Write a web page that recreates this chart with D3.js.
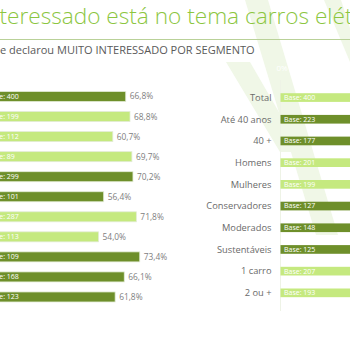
<!DOCTYPE html>
<html>
<head>
<meta charset="utf-8">
<script src="https://cdn.jsdelivr.net/npm/d3@7"></script>
<style>
  body { margin: 0; background: #fff; }
  svg { display: block; font-family: "Open Sans", sans-serif; }
</style>
</head>
<body>
<svg width="350" height="350"></svg>
<script>
// left panel (labels are off the left edge of the slide)
var leftBase = [400, 199, 112, 89, 299, 101, 287, 113, 109, 168, 123];
var leftValues = [66.8, 68.8, 60.7, 69.7, 70.2, 56.4, 71.8, 54.0, 73.4, 66.1, 61.8];
var leftShade = ["dark", "light", "light", "light", "dark", "dark", "light", "light", "dark", "dark", "dark"];

// right panel (bars run off the right edge, values are estimates)
var rightCategories = ["Total", "Até 40 anos", "40 +", "Homens", "Mulheres", "Conservadores", "Moderados", "Sustentáveis", "1 carro", "2 ou +"];
var rightBase = [400, 223, 177, 201, 199, 127, 148, 125, 207, 193];
var rightValues = [45.0, 47.5, 41.8, 46.3, 43.7, 38.6, 44.6, 52.0, 46.9, 43.0];
var rightShade = ["light", "dark", "dark", "light", "light", "dark", "dark", "dark", "light", "light"];

var title = "O quão interessado está no tema carros elétricos";
var subtitle = "Percentual que declarou MUITO INTERESSADO POR SEGMENTO";

var svg = d3.select("svg");
var color = d3.scaleOrdinal().domain(["dark", "light"]).range(["#6e8f2a", "#c5e97f"]);

// faint decoration in the background
var deco = [
  [[245, 0], [268, 0], [338, 235], [316, 235]],
  [[324, 0], [341, 0], [350, 28], [350, 62]],
  [[226, 62], [250, 62], [302, 152], [280, 152]]
];
svg.selectAll(".deco").data(deco).enter().append("path")
  .attr("class", "deco")
  .attr("d", function(d) { return "M" + d.join("L") + "Z"; })
  .attr("fill", "#f0f7e7");

// fit a text so that a visible part spans a given width
function fitText(sel, full, from, to, x0, width, size0) {
  sel.text(full).attr("font-size", size0);
  var node = sel.node();
  var w = node.getSubStringLength(from, to - from);
  var size = size0 * width / w;
  sel.attr("font-size", size);
  var pre = from > 0 ? node.getSubStringLength(0, from) : 0;
  sel.attr("x", x0 - pre);
}

var t = svg.append("text").attr("y", 23.5).attr("fill", "#8cc63f").attr("font-weight", 300);
var tStart = title.indexOf("teressado");
fitText(t, title, tStart, title.indexOf("elét") + 3, -0.5, 345.5, 17);

svg.append("line")
  .attr("x1", 0).attr("x2", 350)
  .attr("y1", 39.5).attr("y2", 39.5)
  .attr("stroke", "#b9d198").attr("stroke-width", 1);

var st = svg.append("text").attr("y", 54).attr("fill", "#5a5a5a");
var sStart = subtitle.indexOf("e declarou");
fitText(st, subtitle, sStart, subtitle.length, 0, 255, 8.5);

// ---- left chart
var xL = d3.scaleLinear().domain([0, 100]).range([-16, -16 + 212.2]);
var yL = d3.scaleBand().domain(d3.range(leftValues.length)).range([81.5, 312]).padding(0.5);

var left = svg.selectAll(".lrow").data(leftValues).enter().append("g").attr("class", "lrow");
left.append("rect")
  .attr("x", xL(0))
  .attr("y", function(d, i) { return yL(i); })
  .attr("width", function(d) { return xL(d) - xL(0); })
  .attr("height", yL.bandwidth())
  .attr("fill", function(d, i) { return color(leftShade[i]); })
  .attr("stroke", "#e3ecd6").attr("stroke-width", 0.8);
left.append("text")
  .attr("x", xL(0) + 3.5)
  .attr("y", function(d, i) { return yL(i) + yL.bandwidth() / 2; })
  .attr("dy", "0.35em")
  .attr("font-size", 7)
  .attr("fill", "#fff")
  .text(function(d, i) { return "Base: " + leftBase[i]; });
left.append("text")
  .attr("x", function(d) { return xL(d) + 4; })
  .attr("y", function(d, i) { return yL(i) + yL.bandwidth() / 2; })
  .attr("dy", "0.35em")
  .attr("font-size", 8.4)
  .attr("fill", "#808080")
  .text(function(d) { return d3.format(".1f")(d).replace(".", ",") + "%"; });

// ---- right chart
var xR = d3.scaleLinear().domain([0, 100]).range([280.5, 280.5 + 212.2]);
var yR = d3.scaleBand().domain(rightCategories).range([80.2, 310.2]).padding(0.6);

svg.append("line")
  .attr("x1", xR(0)).attr("x2", xR(0))
  .attr("y1", 80).attr("y2", 311)
  .attr("stroke", "#eef3e6").attr("stroke-width", 1);

svg.append("text")
  .attr("x", xR(0) + 1.5).attr("y", 71)
  .attr("text-anchor", "middle")
  .attr("font-size", 8)
  .attr("fill", "#fff")
  .text("0%");

var right = svg.selectAll(".rrow").data(rightCategories).enter().append("g").attr("class", "rrow");
right.append("rect")
  .attr("x", xR(0))
  .attr("y", function(d) { return yR(d); })
  .attr("width", function(d, i) { return xR(rightValues[i]) - xR(0); })
  .attr("height", yR.bandwidth())
  .attr("fill", function(d, i) { return color(rightShade[i]); });
right.append("text")
  .attr("x", xR(0) + 3.5)
  .attr("y", function(d) { return yR(d) + yR.bandwidth() / 2; })
  .attr("dy", "0.35em")
  .attr("font-size", 7)
  .attr("fill", "#fff")
  .text(function(d, i) { return "Base: " + rightBase[i]; });
right.append("text")
  .attr("x", xR(0) - 9)
  .attr("y", function(d) { return yR(d) + yR.bandwidth() / 2; })
  .attr("dy", "0.35em")
  .attr("text-anchor", "end")
  .attr("font-size", 9.3)
  .attr("fill", "#6a6a6a")
  .text(function(d) { return d; });
</script>
</body>
</html>
